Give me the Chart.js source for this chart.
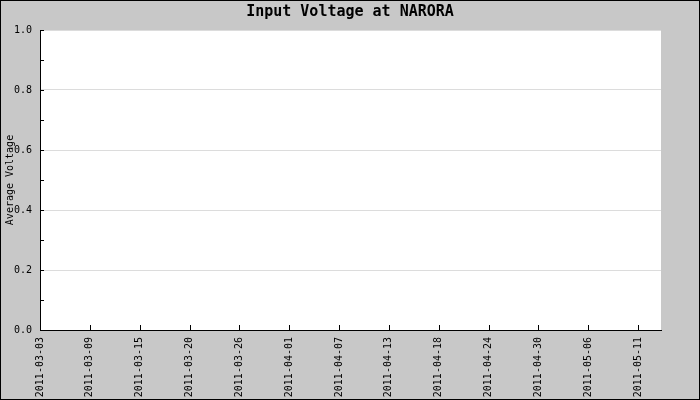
<!DOCTYPE html>
<html><head><meta charset="utf-8">
<script src="https://cdn.jsdelivr.net/npm/chart.js@4.4.0/dist/chart.umd.min.js"></script>
<style>html,body{margin:0;padding:0;background:#c8c8c8;}canvas{display:block;}</style>
</head><body>
<canvas id="c" width="700" height="400"></canvas>
<script>
const chartTitle = 'Input Voltage at NARORA';
const yAxisTitle = 'Average Voltage';
const dateLabels = ['2011-03-03','2011-03-09','2011-03-15','2011-03-20','2011-03-26','2011-04-01','2011-04-07','2011-04-13','2011-04-18','2011-04-24','2011-04-30','2011-05-06','2011-05-11'];
const voltageValues = []; // the reference chart shows no readings
const yTickValues = [0, 0.2, 0.4, 0.6, 0.8, 1.0];
const yMinorTickValues = [0.1, 0.3, 0.5, 0.7, 0.9];
const xMax = 12.46;

const FONT = 'DejaVu Sans Mono';

const framePlugin = {
  id: 'frame',
  beforeDraw(chart) {
    const {ctx, chartArea: a} = chart;
    ctx.save();
    ctx.fillStyle = '#c8c8c8';
    ctx.fillRect(0, 0, chart.width, chart.height);
    ctx.fillStyle = '#ffffff';
    ctx.fillRect(a.left, a.top, a.right - a.left, a.bottom - a.top);
    ctx.restore();
  },
  afterDraw(chart) {
    const {ctx, chartArea: a, scales} = chart;
    ctx.save();
    ctx.strokeStyle = '#000';
    ctx.lineWidth = 1;
    ctx.beginPath();
    yTickValues.concat(yMinorTickValues).forEach(v => {
      const y = Math.round(scales.y.getPixelForValue(v)) + 0.5;
      ctx.moveTo(a.left, y);
      ctx.lineTo(a.left + 4, y);
    });
    dateLabels.forEach((_, i) => {
      const x = Math.round(scales.x.getPixelForValue(i)) + 0.5;
      ctx.moveTo(x, a.bottom);
      ctx.lineTo(x, a.bottom - 5);
    });
    ctx.stroke();
    ctx.strokeRect(0.5, 0.5, chart.width - 1, chart.height - 1);
    ctx.restore();
  }
};

new Chart(document.getElementById('c'), {
  type: 'line',
  data: {
    datasets: [{
      label: 'Average Voltage',
      data: voltageValues,
      borderColor: '#0000ff',
      pointRadius: 0
    }]
  },
  options: {
    responsive: false,
    animation: false,
    devicePixelRatio: 1,
    layout: { padding: 0 },
    plugins: {
      legend: { display: false },
      tooltip: { enabled: false },
      title: {
        display: true,
        text: chartTitle,
        color: '#000',
        font: { family: FONT, size: 15, weight: 'bold', lineHeight: 1 },
        padding: { top: 5, bottom: 10 }
      }
    },
    scales: {
      x: {
        type: 'linear',
        min: 0,
        max: xMax,
        afterBuildTicks: s => { s.ticks = dateLabels.map((_, i) => ({ value: i })); },
        afterFit: s => { s.height = 70; },
        grid: { display: false, drawTicks: false },
        border: { display: true, color: '#000', width: 1 },
        ticks: {
          autoSkip: false,
          minRotation: 90,
          maxRotation: 90,
          padding: 7,
          color: '#000',
          font: { family: FONT, size: 10 },
          callback: v => dateLabels[Math.round(v)]
        }
      },
      y: {
        type: 'linear',
        position: 'left',
        min: 0,
        max: 1,
        afterBuildTicks: s => { s.ticks = yTickValues.map(v => ({ value: v })); },
        afterFit: s => { s.width = 40; },
        grid: { color: '#dcdcdc', drawTicks: false, lineWidth: 1 },
        border: { display: true, color: '#000', width: 1 },
        title: {
          display: true,
          text: yAxisTitle,
          color: '#000',
          font: { family: FONT, size: 10, lineHeight: 1.2 },
          padding: { top: 4, bottom: 0 }
        },
        ticks: {
          padding: 8,
          color: '#000',
          font: { family: FONT, size: 10 },
          callback: v => Number(v).toFixed(1)
        }
      },
      yRight: {
        type: 'linear',
        position: 'right',
        min: 0,
        max: 1,
        afterFit: s => { s.width = 39; },
        grid: { display: false, drawTicks: false },
        border: { display: false },
        ticks: { display: false }
      }
    }
  },
  plugins: [framePlugin]
});
</script>
</body></html>
